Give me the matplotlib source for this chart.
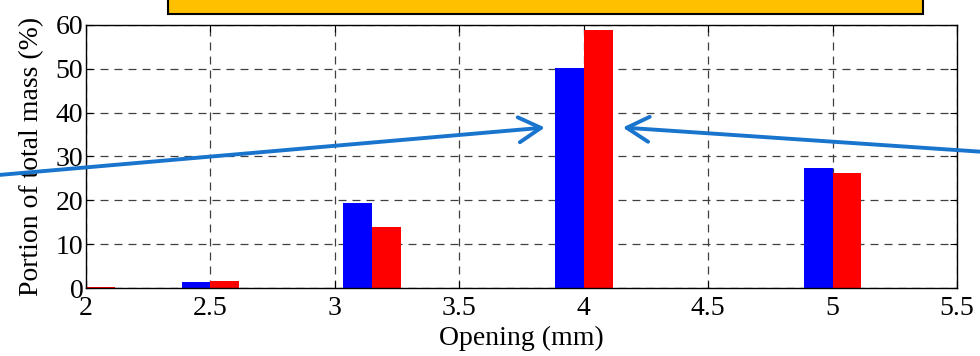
import matplotlib
matplotlib.use("Agg")
import matplotlib.pyplot as plt
import matplotlib.patches as mpatches
import numpy as np

# ---- data -------------------------------------------------------------------
OPENING = [2.0, 2.5, 3.15, 4.0, 5.0]          # mm
SERIES_A = [0.0, 1.3, 19.4, 50.1, 27.4]       # blue, % of total mass
SERIES_B = [0.3, 1.5, 13.8, 58.9, 26.2]       # red, % of total mass
XTICKS = [2, 2.5, 3, 3.5, 4, 4.5, 5, 5.5]
YTICKS = [0, 10, 20, 30, 40, 50, 60]

# ---- style ------------------------------------------------------------------
plt.rcParams.update({
    "font.family": ["Liberation Serif", "DejaVu Serif"],
    "font.size": 20,
    "axes.linewidth": 1.0,
})
ARROW = "#1874CD"
BW = 0.116

fig = plt.figure(figsize=(9.8, 3.56), dpi=100)
ax = fig.add_axes([0.0878, 0.191, 0.8887, 0.739])

x = np.array(OPENING)
ax.bar(x - BW / 2, SERIES_A, BW, color="#0000FF", linewidth=0, zorder=2)
ax.bar(x + BW / 2, SERIES_B, BW, color="#FF0000", linewidth=0, zorder=2)

ax.set_xlim(2, 5.5)
ax.set_ylim(0, 60)
ax.set_xticks(XTICKS)
ax.set_xticklabels(["%g" % t for t in XTICKS])
ax.set_yticks(YTICKS)
ax.tick_params(direction="in", length=5, top=True, right=True)
ax.tick_params(axis="x", pad=6)
ax.tick_params(axis="y", pad=2)
ax.grid(True, color="#404040", linestyle=(0, (6.4, 4.8)), linewidth=0.9, zorder=1)
ax.set_axisbelow(True)
ax.set_xlabel("Opening (mm)", labelpad=3)
ax.set_ylabel("Portion of total mass (%)", labelpad=8)

# blue arrows pointing at the 4 mm group
arr = dict(arrowstyle="->,head_length=0.8,head_width=0.45", color=ARROW, lw=2.8,
           shrinkA=0, shrinkB=0)
ax.annotate("", xy=(3.844, 36.6), xytext=(1.654, 25.8), textcoords="data",
            arrowprops=arr, annotation_clip=False, zorder=5)
ax.annotate("", xy=(4.157, 36.6), xytext=(5.592, 31.1), textcoords="data",
            arrowprops=arr, annotation_clip=False, zorder=5)

# yellow banner cut off by the top edge
fig.patches.append(mpatches.Rectangle((0.1714, 0.9607), 0.770, 0.1,
                                      transform=fig.transFigure,
                                      facecolor="#FFC000", edgecolor="black",
                                      linewidth=1.5))

fig.savefig("out.png", dpi=100)
